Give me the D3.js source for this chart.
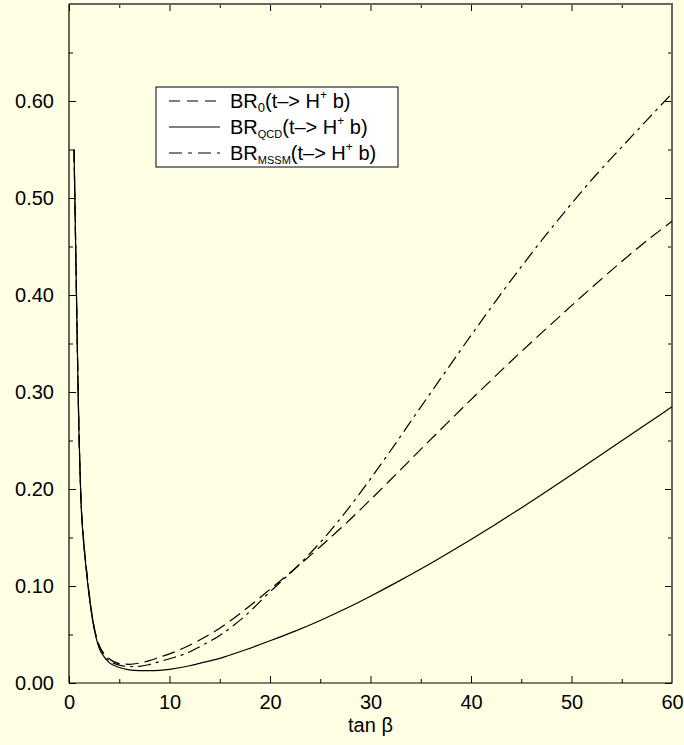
<!DOCTYPE html>
<html>
<head>
<meta charset="utf-8">
<script src="https://cdn.jsdelivr.net/npm/d3@7"></script>
<style>
  html, body { margin: 0; padding: 0; background: #ffffe4; }
  svg { display: block; }
  text { font-family: "Liberation Sans", Arial, Helvetica, sans-serif; fill: #000; }
</style>
</head>
<body>
<div id="chart"></div>
<script>
// tan beta sample points
const tanBeta = [0.5, 0.6, 0.7, 0.8, 0.9, 1, 1.2, 1.4, 1.7, 2, 2.5, 3, 3.5, 4, 5, 6, 7, 8, 9, 10,
                 12, 13, 15, 17.5, 20, 22.5, 25, 27.5, 30, 32.5, 35, 37.5, 40, 42.5, 45, 47.5, 50,
                 52.5, 55, 57.5, 60];

// BR_0 (dashed)
const br0 = [0.550, 0.490, 0.428, 0.365, 0.305, 0.256, 0.187, 0.154, 0.121, 0.093, 0.058, 0.039,
             0.030, 0.025, 0.020, 0.0193, 0.0205, 0.023, 0.0265, 0.030, 0.039, 0.0443, 0.0564,
             0.0755, 0.0965, 0.118, 0.1405, 0.164, 0.189, 0.2148, 0.2408, 0.2666, 0.2921, 0.3171,
             0.3416, 0.3654, 0.389, 0.4121, 0.4346, 0.456, 0.476];

// BR_QCD (solid)
const brQCD = [0.550, 0.490, 0.428, 0.365, 0.305, 0.255, 0.185, 0.152, 0.118, 0.090, 0.056, 0.036,
               0.027, 0.021, 0.0160, 0.0136, 0.0128, 0.0127, 0.0131, 0.0141, 0.0178, 0.0203, 0.0254,
               0.0340, 0.0435, 0.0535, 0.0645, 0.0765, 0.0895, 0.1032, 0.1175, 0.1325, 0.148, 0.164,
               0.1805, 0.1975, 0.2148, 0.2322, 0.2497, 0.2672, 0.2847];

// BR_MSSM (dash-dot)
const brMSSM = [0.550, 0.490, 0.428, 0.365, 0.305, 0.255, 0.186, 0.153, 0.120, 0.092, 0.057, 0.038,
                0.029, 0.023, 0.0185, 0.0170, 0.0172, 0.019, 0.022, 0.025, 0.032, 0.0374, 0.049,
                0.069, 0.094, 0.118, 0.145, 0.176, 0.2105, 0.247, 0.2845, 0.3215, 0.3583, 0.3943,
                0.4291, 0.4624, 0.4942, 0.5245, 0.5525, 0.5803, 0.6078];

const xMajor = [0, 10, 20, 30, 40, 50, 60];
const xMinor = [5, 15, 25, 35, 45, 55];
const yMajor = [0, 0.1, 0.2, 0.3, 0.4, 0.5, 0.6];
const yMinor = [0.05, 0.15, 0.25, 0.35, 0.45, 0.55, 0.65];

const W = 684, H = 745;
const margin = { top: 4, right: 12, bottom: 62, left: 69 };

const svg = d3.select("#chart").append("svg")
    .attr("width", W)
    .attr("height", H);

svg.append("rect").attr("width", W).attr("height", H).attr("fill", "#ffffe4");

const x = d3.scaleLinear().domain([0, 60]).range([margin.left, W - margin.right]);
const y = d3.scaleLinear().domain([0, 0.7]).range([H - margin.bottom, margin.top]);

function styleAxis(g) {
    g.select(".domain").remove();
    g.selectAll(".tick line").attr("stroke", "#000").attr("stroke-width", 1);
    g.selectAll(".tick text").attr("font-size", 20).attr("font-family", null);
}

// bottom
svg.append("g")
   .attr("transform", `translate(0,${y(0)})`)
   .call(d3.axisBottom(x).tickValues(xMajor).tickSize(-7).tickPadding(12).tickFormat(d3.format("d")))
   .call(styleAxis);
svg.append("g")
   .attr("transform", `translate(0,${y(0)})`)
   .call(d3.axisBottom(x).tickValues(xMinor).tickSize(-4).tickFormat(""))
   .call(styleAxis);

// top
svg.append("g")
   .attr("transform", `translate(0,${y(0.7)})`)
   .call(d3.axisTop(x).tickValues(xMajor).tickSize(-7).tickFormat(""))
   .call(styleAxis);
svg.append("g")
   .attr("transform", `translate(0,${y(0.7)})`)
   .call(d3.axisTop(x).tickValues(xMinor).tickSize(-4).tickFormat(""))
   .call(styleAxis);

// left
svg.append("g")
   .attr("transform", `translate(${x(0)},0)`)
   .call(d3.axisLeft(y).tickValues(yMajor).tickSize(-7).tickPadding(15).tickFormat(d3.format(".2f")))
   .call(styleAxis);
svg.append("g")
   .attr("transform", `translate(${x(0)},0)`)
   .call(d3.axisLeft(y).tickValues(yMinor).tickSize(-4).tickFormat(""))
   .call(styleAxis);

// right
svg.append("g")
   .attr("transform", `translate(${x(60)},0)`)
   .call(d3.axisRight(y).tickValues(yMajor).tickSize(-7).tickFormat(""))
   .call(styleAxis);
svg.append("g")
   .attr("transform", `translate(${x(60)},0)`)
   .call(d3.axisRight(y).tickValues(yMinor).tickSize(-4).tickFormat(""))
   .call(styleAxis);

// frame
svg.append("line").attr("x1", x(0)).attr("x2", x(60)).attr("y1", y(0.7)).attr("y2", y(0.7))
   .attr("stroke", "#666").attr("stroke-width", 2);
svg.append("line").attr("x1", x(60)).attr("x2", x(60)).attr("y1", y(0.7) - 1).attr("y2", y(0) + 0.5)
   .attr("stroke", "#666").attr("stroke-width", 2);
svg.append("line").attr("x1", x(0)).attr("x2", x(0)).attr("y1", y(0.7)).attr("y2", y(0))
   .attr("stroke", "#000").attr("stroke-width", 1.2);
svg.append("line").attr("x1", x(0)).attr("x2", x(60)).attr("y1", y(0)).attr("y2", y(0))
   .attr("stroke", "#000").attr("stroke-width", 1.2);

// curves
const series = [
    { name: "0", values: br0, dash: "13,6" },
    { name: "QCD", values: brQCD, dash: null },
    { name: "MSSM", values: brMSSM, dash: "13,5,3,5" }
];

const line = d3.line()
    .x((d, i) => x(tanBeta[i]))
    .y(d => y(d))
    .curve(d3.curveMonotoneX);

svg.selectAll(".curve")
   .data(series)
   .enter().append("path")
   .attr("class", "curve")
   .attr("d", d => line(d.values))
   .attr("fill", "none")
   .attr("stroke", "#000")
   .attr("stroke-width", 1.2)
   .attr("stroke-dasharray", d => d.dash);

// x title
svg.append("text")
   .attr("x", x(30))
   .attr("y", 732)
   .attr("text-anchor", "middle")
   .attr("font-size", 20)
   .text("tan β");

// legend
const legend = svg.append("g");
legend.append("rect")
   .attr("x", 156).attr("y", 87).attr("width", 242).attr("height", 80)
   .attr("fill", "#fff").attr("stroke", "#000").attr("stroke-width", 1);

series.forEach((s, i) => {
    const base = 108 + i * 26;
    legend.append("line")
       .attr("x1", 169).attr("x2", 220)
       .attr("y1", base - 7).attr("y2", base - 7)
       .attr("stroke", "#000").attr("stroke-width", 1.2)
       .attr("stroke-dasharray", s.name === "0" ? "11,7" : s.name === "MSSM" ? "13,6,4,6" : null);
    const t = legend.append("text").attr("x", 230).attr("y", base).attr("font-size", 20);
    t.append("tspan").text("BR");
    t.append("tspan").attr("dy", 4).attr("font-size", s.name === "0" ? 13 : 11).text(s.name);
    t.append("tspan").attr("dy", -4).text("(t–> H");
    t.append("tspan").attr("dy", -9).attr("font-size", 12).text("+");
    t.append("tspan").attr("dy", 9).text(" b)");
});
</script>
</body>
</html>
